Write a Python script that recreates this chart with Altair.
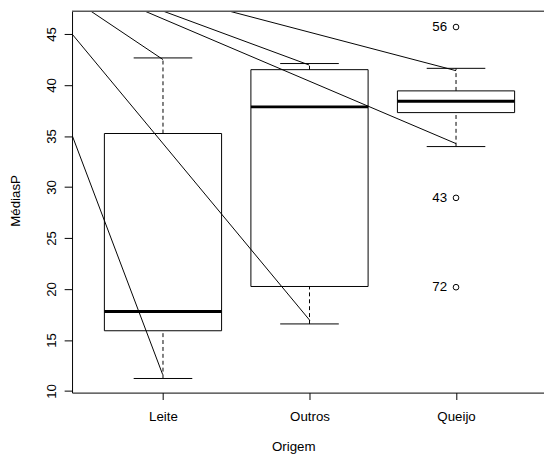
import altair as alt
import pandas as pd

# ---- data ----
categories = ["Leite", "Outros", "Queijo"]
positions = [1, 2, 3]
whisker_low = [11.22, 16.57, 33.96]
q1 = [15.90, 20.24, 37.29]
median = [17.79, 37.85, 38.40]
q3 = [35.24, 41.50, 39.42]
whisker_high = [42.65, 42.10, 41.63]

outlier_pos = [3, 3, 3]
outlier_val = [45.68, 28.93, 20.17]
outlier_label = ["56", "43", "72"]

# straight segments drawn over the boxplot (start -> end, data units)
seg_x1 = [0.509, 0.879, 1.005, 1.457, 0.379, 0.381]
seg_y1 = [47.22, 47.22, 47.22, 47.22, 45.00, 35.02]
seg_x2 = [1.000, 3.000, 1.997, 3.000, 2.002, 0.998]
seg_y2 = [42.49, 34.25, 41.96, 41.40, 16.92, 11.60]

y_ticks = [10, 15, 20, 25, 30, 35, 40, 45]
x_domain = [0.3793, 3.6005]
y_domain = [9.836, 47.222]

W, H = 479, 387
FONT = "Liberation Sans"
FS = 13.5

box_df = pd.DataFrame({
    "cat": categories, "pos": positions, "low": whisker_low, "q1": q1,
    "med": median, "q3": q3, "high": whisker_high,
})
out_df = pd.DataFrame({"pos": outlier_pos, "val": outlier_val, "lab": outlier_label})
seg_df = pd.DataFrame({"x1": seg_x1, "y1": seg_y1, "x2": seg_x2, "y2": seg_y2})

label_expr = " : ".join(
    f"datum.value == {p} ? '{c}'" for p, c in zip(positions[:-1], categories[:-1])
) + f" : '{categories[-1]}'"

xs = alt.Scale(domain=x_domain, nice=False, zero=False)
ys = alt.Scale(domain=y_domain, nice=False, zero=False)

x_axis = alt.Axis(
    values=positions, labelExpr=label_expr, grid=False, tickSize=7,
    tickColor="black", domainColor="black", labelColor="black",
    labelFont=FONT, labelFontSize=FS, labelPadding=10, labelBaseline="top",
    title="Origem", titleFont=FONT, titleFontSize=FS, titleFontWeight="normal",
    titleColor="black", titleX=224.5, titleY=47.3, titleBaseline="top",
    titleAlign="center", titleAnchor="start",
)
y_axis = alt.Axis(
    values=y_ticks, grid=False, tickSize=8, tickColor="black",
    domainColor="black", labelColor="black", labelFont=FONT,
    labelFontSize=FS, labelAngle=270, labelAlign="center",
    labelBaseline="bottom", labelPadding=6,
    title="MédiasP", titleFont=FONT, titleFontSize=FS, titleFontWeight="normal",
    titleColor="black", titleAngle=270, titleX=-53, titleY=192,
    titleAlign="center", titleBaseline="alphabetic", titleAnchor="start",
)

base = alt.Chart(box_df).transform_calculate(
    bl="datum.pos - 0.4", br="datum.pos + 0.4",
    cl="datum.pos - 0.2", cr="datum.pos + 0.2",
)

upper_whisker = base.mark_rule(color="black", strokeDash=[4, 3], strokeWidth=1).encode(
    x=alt.X("pos:Q", scale=xs, axis=x_axis),
    y=alt.Y("q3:Q", scale=ys, axis=y_axis),
    y2="high:Q",
)
lower_whisker = base.mark_rule(color="black", strokeDash=[4, 3], strokeWidth=1).encode(
    x=alt.X("pos:Q", scale=xs), y=alt.Y("low:Q", scale=ys), y2="q1:Q",
)
cap_high = base.mark_rule(color="black", strokeWidth=1).encode(
    x=alt.X("cl:Q", scale=xs), x2="cr:Q", y=alt.Y("high:Q", scale=ys),
)
cap_low = base.mark_rule(color="black", strokeWidth=1).encode(
    x=alt.X("cl:Q", scale=xs), x2="cr:Q", y=alt.Y("low:Q", scale=ys),
)
box = base.mark_rect(fillOpacity=0, stroke="black", strokeWidth=1).encode(
    x=alt.X("bl:Q", scale=xs), x2="br:Q", y=alt.Y("q1:Q", scale=ys), y2="q3:Q",
)
med = base.mark_rule(color="black", strokeWidth=3).encode(
    x=alt.X("bl:Q", scale=xs), x2="br:Q", y=alt.Y("med:Q", scale=ys),
)

points = alt.Chart(out_df).mark_point(
    shape="circle", filled=False, color="black", size=33, strokeWidth=1, opacity=1
).encode(x=alt.X("pos:Q", scale=xs), y=alt.Y("val:Q", scale=ys))
labels = alt.Chart(out_df).mark_text(
    align="right", baseline="middle", dx=-9, font=FONT, fontSize=FS, color="black"
).encode(x=alt.X("pos:Q", scale=xs), y=alt.Y("val:Q", scale=ys), text="lab:N")

segments = alt.Chart(seg_df).mark_rule(color="black", strokeWidth=1, clip=True).encode(
    x=alt.X("x1:Q", scale=xs), y=alt.Y("y1:Q", scale=ys), x2="x2:Q", y2="y2:Q",
)

top_border = alt.Chart(box_df).mark_rule(color="#555555", strokeWidth=1).encode(
    x=alt.value(0), x2=alt.value(W), y=alt.value(0),
)

chart = alt.layer(
    upper_whisker, lower_whisker, cap_high, cap_low, box, med,
    points, labels, segments, top_border,
).properties(
    width=W, height=H,
    autosize=alt.AutoSizeParams(type="none"),
    padding={"left": 65, "top": 0, "right": 0, "bottom": 62},
    background="white",
).configure_view(stroke=None)

chart.save("out.html", embed_options={"renderer": "svg", "actions": False})
